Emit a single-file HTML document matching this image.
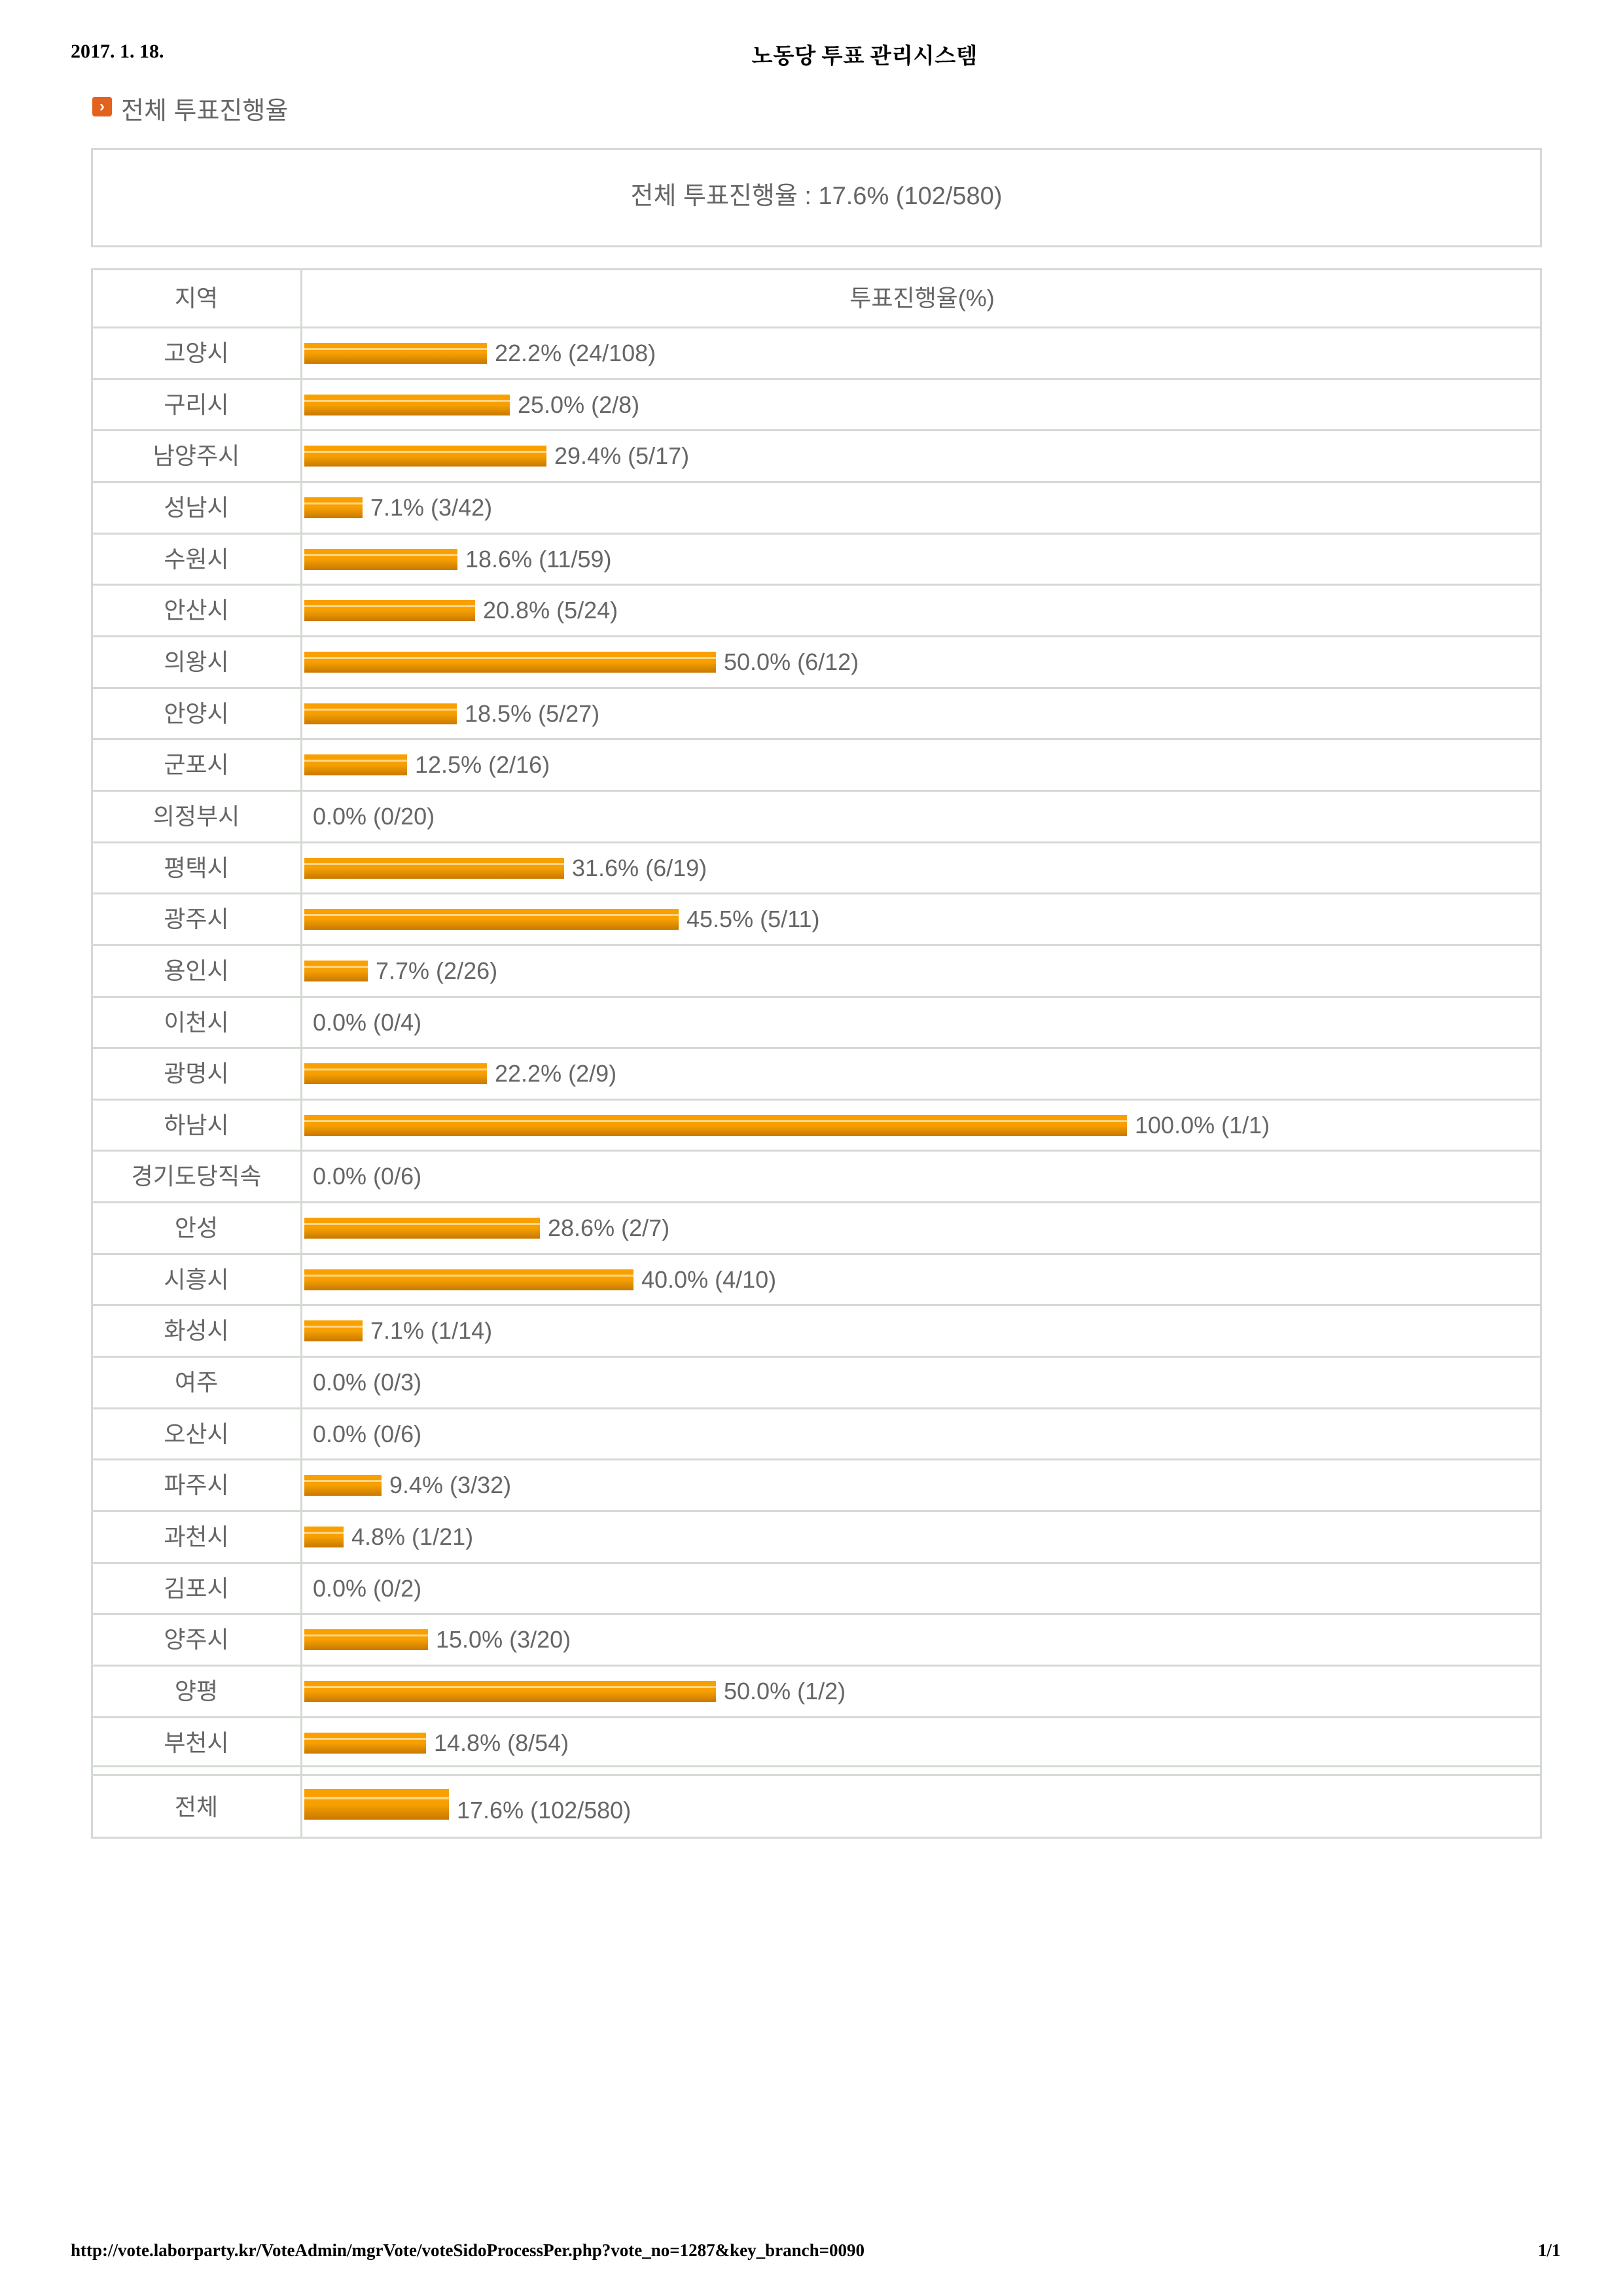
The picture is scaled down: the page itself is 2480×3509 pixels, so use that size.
<!DOCTYPE html>
<html><head><meta charset="utf-8">
<style>
*{margin:0;padding:0;box-sizing:border-box}
body{width:2480px;height:3509px;background:#fff;position:relative;overflow:hidden;font-family:"Liberation Sans","Noto Sans CJK KR","NanumGothic",sans-serif;color:#666}
.abs{position:absolute}
.hdr{font-family:"Liberation Serif","Noto Serif CJK SC","NanumGothic",serif;color:#000;font-size:30px;font-weight:bold}
.box{position:absolute;border:3px solid #d3dad3}
.row{position:absolute;left:139px;width:2217px;height:79px;border-top:3px solid #d3dad3}
.lab{position:absolute;left:0;width:322px;top:0;height:76px;line-height:76px;text-align:center;font-size:36px}
.cell{position:absolute;left:326px;top:0;height:76px;display:flex;align-items:center;font-size:36px;white-space:nowrap}
.bar{height:32px;margin-right:12px;background:linear-gradient(#f9a000 0,#f9a000 8px,#ffd68a 8px,#ffd68a 11px,#f9a000 11px,#f6a000 16px,#c87800 32px)}
.cell span{margin-left:0}
.vl{position:absolute;left:459px;width:3px;background:#d3dad3}
</style></head><body>
<div class="abs hdr" style="left:108px;top:62px">2017. 1. 18.</div>
<div class="abs hdr" style="left:1148px;top:58px;font-size:34px">노동당 투표 관리시스템</div>
<div class="abs" style="left:141px;top:148px;width:30px;height:30px;background:#e2621e;border-radius:4px;color:#fff;font-size:24px;line-height:30px;text-align:center;font-weight:bold">›</div>
<div class="abs" style="left:185px;top:138px;font-size:38px;color:#666">전체 투표진행율</div>
<div class="box" style="left:139px;top:226px;width:2217px;height:152px"></div>
<div class="abs" style="left:139px;top:226px;width:2217px;height:152px;line-height:148px;text-align:center;font-size:38px">전체 투표진행율 : 17.6% (102/580)</div>

<div class="box" style="left:139px;top:410px;width:2217px;height:2400px;border-top:3px solid #d3dad3"></div>
<div class="vl" style="top:410px;height:2400px"></div>
<div class="abs" style="left:139px;top:413px;width:322px;height:86px;line-height:86px;text-align:center;font-size:36px">지역</div>
<div class="abs" style="left:462px;top:413px;width:1894px;height:86px;line-height:86px;text-align:center;font-size:36px">투표진행율(%)</div>

<div class="row" style="top:499px"><div class="lab">고양시</div><div class="cell"><div class="bar" style="width:279px"></div>22.2% (24/108)</div></div>
<div class="row" style="top:578px"><div class="lab">구리시</div><div class="cell"><div class="bar" style="width:314px"></div>25.0% (2/8)</div></div>
<div class="row" style="top:656px"><div class="lab">남양주시</div><div class="cell"><div class="bar" style="width:370px"></div>29.4% (5/17)</div></div>
<div class="row" style="top:735px"><div class="lab">성남시</div><div class="cell"><div class="bar" style="width:89px"></div>7.1% (3/42)</div></div>
<div class="row" style="top:814px"><div class="lab">수원시</div><div class="cell"><div class="bar" style="width:234px"></div>18.6% (11/59)</div></div>
<div class="row" style="top:892px"><div class="lab">안산시</div><div class="cell"><div class="bar" style="width:261px"></div>20.8% (5/24)</div></div>
<div class="row" style="top:971px"><div class="lab">의왕시</div><div class="cell"><div class="bar" style="width:629px"></div>50.0% (6/12)</div></div>
<div class="row" style="top:1050px"><div class="lab">안양시</div><div class="cell"><div class="bar" style="width:233px"></div>18.5% (5/27)</div></div>
<div class="row" style="top:1128px"><div class="lab">군포시</div><div class="cell"><div class="bar" style="width:157px"></div>12.5% (2/16)</div></div>
<div class="row" style="top:1207px"><div class="lab">의정부시</div><div class="cell" style="left:339px">0.0% (0/20)</div></div>
<div class="row" style="top:1286px"><div class="lab">평택시</div><div class="cell"><div class="bar" style="width:397px"></div>31.6% (6/19)</div></div>
<div class="row" style="top:1364px"><div class="lab">광주시</div><div class="cell"><div class="bar" style="width:572px"></div>45.5% (5/11)</div></div>
<div class="row" style="top:1443px"><div class="lab">용인시</div><div class="cell"><div class="bar" style="width:97px"></div>7.7% (2/26)</div></div>
<div class="row" style="top:1522px"><div class="lab">이천시</div><div class="cell" style="left:339px">0.0% (0/4)</div></div>
<div class="row" style="top:1600px"><div class="lab">광명시</div><div class="cell"><div class="bar" style="width:279px"></div>22.2% (2/9)</div></div>
<div class="row" style="top:1679px"><div class="lab">하남시</div><div class="cell"><div class="bar" style="width:1257px"></div>100.0% (1/1)</div></div>
<div class="row" style="top:1757px"><div class="lab">경기도당직속</div><div class="cell" style="left:339px">0.0% (0/6)</div></div>
<div class="row" style="top:1836px"><div class="lab">안성</div><div class="cell"><div class="bar" style="width:360px"></div>28.6% (2/7)</div></div>
<div class="row" style="top:1915px"><div class="lab">시흥시</div><div class="cell"><div class="bar" style="width:503px"></div>40.0% (4/10)</div></div>
<div class="row" style="top:1993px"><div class="lab">화성시</div><div class="cell"><div class="bar" style="width:89px"></div>7.1% (1/14)</div></div>
<div class="row" style="top:2072px"><div class="lab">여주</div><div class="cell" style="left:339px">0.0% (0/3)</div></div>
<div class="row" style="top:2151px"><div class="lab">오산시</div><div class="cell" style="left:339px">0.0% (0/6)</div></div>
<div class="row" style="top:2229px"><div class="lab">파주시</div><div class="cell"><div class="bar" style="width:118px"></div>9.4% (3/32)</div></div>
<div class="row" style="top:2308px"><div class="lab">과천시</div><div class="cell"><div class="bar" style="width:60px"></div>4.8% (1/21)</div></div>
<div class="row" style="top:2387px"><div class="lab">김포시</div><div class="cell" style="left:339px">0.0% (0/2)</div></div>
<div class="row" style="top:2465px"><div class="lab">양주시</div><div class="cell"><div class="bar" style="width:189px"></div>15.0% (3/20)</div></div>
<div class="row" style="top:2544px"><div class="lab">양평</div><div class="cell"><div class="bar" style="width:629px"></div>50.0% (1/2)</div></div>
<div class="row" style="top:2623px"><div class="lab">부천시</div><div class="cell"><div class="bar" style="width:186px"></div>14.8% (8/54)</div></div>
<div class="row" style="top:2698px;height:16px"></div>
<div class="row" style="top:2711px;height:96px"><div class="lab" style="height:93px;line-height:96px">전체</div><div class="cell" style="height:93px"><div class="bar" style="width:221px;height:47px;margin-top:-6px;background:linear-gradient(#f9a000 0,#f9a000 12px,#ffd68a 12px,#ffd68a 16px,#f9a000 16px,#f6a000 24px,#c87800 47px)"></div><span style="margin-top:12px">17.6% (102/580)</span></div></div>

<div class="abs hdr" style="left:108px;top:3424px;font-size:27px">http://vote.laborparty.kr/VoteAdmin/mgrVote/voteSidoProcessPer.php?vote_no=1287&amp;key_branch=0090</div>
<div class="abs hdr" style="left:2350px;top:3424px;font-size:27px">1/1</div>
</body></html>
